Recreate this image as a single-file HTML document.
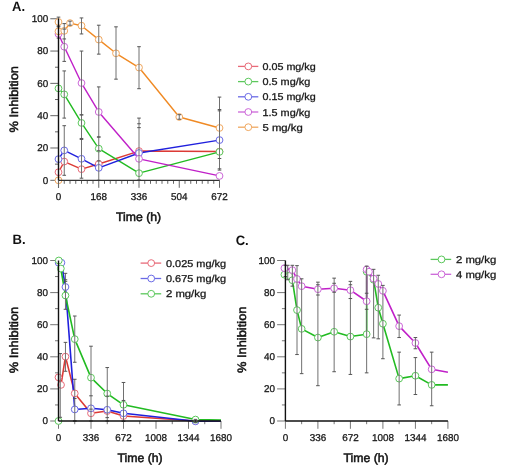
<!DOCTYPE html>
<html><head><meta charset="utf-8"><style>
html,body{margin:0;padding:0;background:#fff;}
svg{display:block;font-family:"Liberation Sans",sans-serif;text-rendering:geometricPrecision;filter:blur(0.3px);}
</style></head><body>
<svg width="520" height="467" viewBox="0 0 520 467">
<rect width="520" height="467" fill="#fff"/>
<text transform="translate(12.00,10.60) scale(0.96,1)" font-size="13.6" font-weight="bold" fill="#111">A.</text>
<text transform="translate(18.00,99.30) rotate(-90)" font-size="12.2" text-anchor="middle" fill="#111" stroke="#111" stroke-width="0.5" textLength="66.5" lengthAdjust="spacingAndGlyphs">% Inhibition</text>
<line x1="50.30" y1="180.30" x2="58.50" y2="180.30" stroke="#666" stroke-width="1" />
<text x="48.20" y="183.70" font-size="9.9" text-anchor="end" font-weight="normal" fill="#1a1a1a" stroke="#1a1a1a" stroke-width="0.3">0</text>
<line x1="55.00" y1="164.15" x2="58.50" y2="164.15" stroke="#666" stroke-width="1" />
<line x1="50.30" y1="147.99" x2="58.50" y2="147.99" stroke="#666" stroke-width="1" />
<text x="48.20" y="151.39" font-size="9.9" text-anchor="end" font-weight="normal" fill="#1a1a1a" stroke="#1a1a1a" stroke-width="0.3">20</text>
<line x1="55.00" y1="131.84" x2="58.50" y2="131.84" stroke="#666" stroke-width="1" />
<line x1="50.30" y1="115.68" x2="58.50" y2="115.68" stroke="#666" stroke-width="1" />
<text x="48.20" y="119.08" font-size="9.9" text-anchor="end" font-weight="normal" fill="#1a1a1a" stroke="#1a1a1a" stroke-width="0.3">40</text>
<line x1="55.00" y1="99.53" x2="58.50" y2="99.53" stroke="#666" stroke-width="1" />
<line x1="50.30" y1="83.37" x2="58.50" y2="83.37" stroke="#666" stroke-width="1" />
<text x="48.20" y="86.77" font-size="9.9" text-anchor="end" font-weight="normal" fill="#1a1a1a" stroke="#1a1a1a" stroke-width="0.3">60</text>
<line x1="55.00" y1="67.22" x2="58.50" y2="67.22" stroke="#666" stroke-width="1" />
<line x1="50.30" y1="51.06" x2="58.50" y2="51.06" stroke="#666" stroke-width="1" />
<text x="48.20" y="54.46" font-size="9.9" text-anchor="end" font-weight="normal" fill="#1a1a1a" stroke="#1a1a1a" stroke-width="0.3">80</text>
<line x1="55.00" y1="34.91" x2="58.50" y2="34.91" stroke="#666" stroke-width="1" />
<line x1="50.30" y1="18.75" x2="58.50" y2="18.75" stroke="#666" stroke-width="1" />
<text x="48.20" y="22.15" font-size="9.9" text-anchor="end" font-weight="normal" fill="#1a1a1a" stroke="#1a1a1a" stroke-width="0.3">100</text>
<line x1="58.50" y1="180.30" x2="58.50" y2="187.80" stroke="#666" stroke-width="1" />
<text x="58.50" y="199.80" font-size="9.9" text-anchor="middle" font-weight="normal" fill="#1a1a1a" stroke="#1a1a1a" stroke-width="0.3">0</text>
<line x1="64.25" y1="180.30" x2="64.25" y2="183.80" stroke="#666" stroke-width="1" />
<line x1="70.00" y1="180.30" x2="70.00" y2="183.80" stroke="#666" stroke-width="1" />
<line x1="75.75" y1="180.30" x2="75.75" y2="183.80" stroke="#666" stroke-width="1" />
<line x1="81.50" y1="180.30" x2="81.50" y2="183.80" stroke="#666" stroke-width="1" />
<line x1="87.25" y1="180.30" x2="87.25" y2="183.80" stroke="#666" stroke-width="1" />
<line x1="93.00" y1="180.30" x2="93.00" y2="183.80" stroke="#666" stroke-width="1" />
<line x1="98.75" y1="180.30" x2="98.75" y2="187.80" stroke="#666" stroke-width="1" />
<text x="98.75" y="199.80" font-size="9.9" text-anchor="middle" font-weight="normal" fill="#1a1a1a" stroke="#1a1a1a" stroke-width="0.3">168</text>
<line x1="104.50" y1="180.30" x2="104.50" y2="183.80" stroke="#666" stroke-width="1" />
<line x1="110.25" y1="180.30" x2="110.25" y2="183.80" stroke="#666" stroke-width="1" />
<line x1="116.00" y1="180.30" x2="116.00" y2="183.80" stroke="#666" stroke-width="1" />
<line x1="121.75" y1="180.30" x2="121.75" y2="183.80" stroke="#666" stroke-width="1" />
<line x1="127.50" y1="180.30" x2="127.50" y2="183.80" stroke="#666" stroke-width="1" />
<line x1="133.26" y1="180.30" x2="133.26" y2="183.80" stroke="#666" stroke-width="1" />
<line x1="139.01" y1="180.30" x2="139.01" y2="187.80" stroke="#666" stroke-width="1" />
<text x="139.01" y="199.80" font-size="9.9" text-anchor="middle" font-weight="normal" fill="#1a1a1a" stroke="#1a1a1a" stroke-width="0.3">336</text>
<line x1="144.76" y1="180.30" x2="144.76" y2="183.80" stroke="#666" stroke-width="1" />
<line x1="150.51" y1="180.30" x2="150.51" y2="183.80" stroke="#666" stroke-width="1" />
<line x1="156.26" y1="180.30" x2="156.26" y2="183.80" stroke="#666" stroke-width="1" />
<line x1="162.01" y1="180.30" x2="162.01" y2="183.80" stroke="#666" stroke-width="1" />
<line x1="167.76" y1="180.30" x2="167.76" y2="183.80" stroke="#666" stroke-width="1" />
<line x1="173.51" y1="180.30" x2="173.51" y2="183.80" stroke="#666" stroke-width="1" />
<line x1="179.26" y1="180.30" x2="179.26" y2="187.80" stroke="#666" stroke-width="1" />
<text x="179.26" y="199.80" font-size="9.9" text-anchor="middle" font-weight="normal" fill="#1a1a1a" stroke="#1a1a1a" stroke-width="0.3">504</text>
<line x1="185.01" y1="180.30" x2="185.01" y2="183.80" stroke="#666" stroke-width="1" />
<line x1="190.76" y1="180.30" x2="190.76" y2="183.80" stroke="#666" stroke-width="1" />
<line x1="196.51" y1="180.30" x2="196.51" y2="183.80" stroke="#666" stroke-width="1" />
<line x1="202.26" y1="180.30" x2="202.26" y2="183.80" stroke="#666" stroke-width="1" />
<line x1="208.01" y1="180.30" x2="208.01" y2="183.80" stroke="#666" stroke-width="1" />
<line x1="213.76" y1="180.30" x2="213.76" y2="183.80" stroke="#666" stroke-width="1" />
<line x1="219.51" y1="180.30" x2="219.51" y2="187.80" stroke="#666" stroke-width="1" />
<text x="219.51" y="199.80" font-size="9.9" text-anchor="middle" font-weight="normal" fill="#1a1a1a" stroke="#1a1a1a" stroke-width="0.3">672</text>
<text x="138.60" y="220.90" font-size="12.2" text-anchor="middle" fill="#111" stroke="#111" stroke-width="0.5" textLength="45.2" lengthAdjust="spacingAndGlyphs">Time (h)</text>
<polyline points="58.50,172.22 64.25,161.56 81.50,169.15 98.75,163.98 139.01,151.06 219.51,151.54" fill="none" stroke="#dc3a36" stroke-width="1.4" stroke-linejoin="round"/>
<polyline points="58.50,88.38 64.25,94.36 81.50,122.95 98.75,148.64 139.01,173.19 219.51,151.87" fill="none" stroke="#22bb22" stroke-width="1.4" stroke-linejoin="round"/>
<polyline points="58.50,159.14 64.25,150.41 81.50,158.81 98.75,167.86 139.01,153.00 219.51,140.07" fill="none" stroke="#2020dd" stroke-width="1.4" stroke-linejoin="round"/>
<polyline points="58.50,33.94 64.25,46.70 81.50,83.05 98.75,111.96 139.01,158.81 219.51,175.94" fill="none" stroke="#c020c8" stroke-width="1.4" stroke-linejoin="round"/>
<polyline points="58.50,21.98 58.50,31.35 64.25,30.87 70.00,23.11 81.50,25.70 98.75,39.59 116.00,53.32 139.01,67.54 179.26,116.97 219.51,127.96" fill="none" stroke="#f08a24" stroke-width="1.4" stroke-linejoin="round"/>
<circle cx="58.50" cy="172.22" r="3.4" fill="#fff" stroke="#e86a78" stroke-width="1"/>
<circle cx="64.25" cy="161.56" r="3.4" fill="#fff" stroke="#e86a78" stroke-width="1"/>
<circle cx="81.50" cy="169.15" r="3.4" fill="#fff" stroke="#e86a78" stroke-width="1"/>
<circle cx="98.75" cy="163.98" r="3.4" fill="#fff" stroke="#e86a78" stroke-width="1"/>
<circle cx="139.01" cy="151.06" r="3.4" fill="#fff" stroke="#e86a78" stroke-width="1"/>
<circle cx="219.51" cy="151.54" r="3.4" fill="#fff" stroke="#e86a78" stroke-width="1"/>
<circle cx="58.50" cy="88.38" r="3.4" fill="#fff" stroke="#5cc85c" stroke-width="1"/>
<circle cx="64.25" cy="94.36" r="3.4" fill="#fff" stroke="#5cc85c" stroke-width="1"/>
<circle cx="81.50" cy="122.95" r="3.4" fill="#fff" stroke="#5cc85c" stroke-width="1"/>
<circle cx="98.75" cy="148.64" r="3.4" fill="#fff" stroke="#5cc85c" stroke-width="1"/>
<circle cx="139.01" cy="173.19" r="3.4" fill="#fff" stroke="#5cc85c" stroke-width="1"/>
<circle cx="219.51" cy="151.87" r="3.4" fill="#fff" stroke="#5cc85c" stroke-width="1"/>
<circle cx="58.50" cy="159.14" r="3.4" fill="#fff" stroke="#6a6ae6" stroke-width="1"/>
<circle cx="64.25" cy="150.41" r="3.4" fill="#fff" stroke="#6a6ae6" stroke-width="1"/>
<circle cx="81.50" cy="158.81" r="3.4" fill="#fff" stroke="#6a6ae6" stroke-width="1"/>
<circle cx="98.75" cy="167.86" r="3.4" fill="#fff" stroke="#6a6ae6" stroke-width="1"/>
<circle cx="139.01" cy="153.00" r="3.4" fill="#fff" stroke="#6a6ae6" stroke-width="1"/>
<circle cx="219.51" cy="140.07" r="3.4" fill="#fff" stroke="#6a6ae6" stroke-width="1"/>
<circle cx="58.50" cy="33.94" r="3.4" fill="#fff" stroke="#cc66d8" stroke-width="1"/>
<circle cx="64.25" cy="46.70" r="3.4" fill="#fff" stroke="#cc66d8" stroke-width="1"/>
<circle cx="81.50" cy="83.05" r="3.4" fill="#fff" stroke="#cc66d8" stroke-width="1"/>
<circle cx="98.75" cy="111.96" r="3.4" fill="#fff" stroke="#cc66d8" stroke-width="1"/>
<circle cx="139.01" cy="158.81" r="3.4" fill="#fff" stroke="#cc66d8" stroke-width="1"/>
<circle cx="219.51" cy="175.94" r="3.4" fill="#fff" stroke="#cc66d8" stroke-width="1"/>
<circle cx="58.5" cy="180.30" r="3.4" fill="#fff" stroke="#f0a860" stroke-width="1"/>
<circle cx="58.50" cy="21.98" r="3.4" fill="#fff" stroke="#f0a860" stroke-width="1"/>
<circle cx="58.50" cy="31.35" r="3.4" fill="#fff" stroke="#f0a860" stroke-width="1"/>
<circle cx="64.25" cy="30.87" r="3.4" fill="#fff" stroke="#f0a860" stroke-width="1"/>
<circle cx="70.00" cy="23.11" r="3.4" fill="#fff" stroke="#f0a860" stroke-width="1"/>
<circle cx="81.50" cy="25.70" r="3.4" fill="#fff" stroke="#f0a860" stroke-width="1"/>
<circle cx="98.75" cy="39.59" r="3.4" fill="#fff" stroke="#f0a860" stroke-width="1"/>
<circle cx="116.00" cy="53.32" r="3.4" fill="#fff" stroke="#f0a860" stroke-width="1"/>
<circle cx="139.01" cy="67.54" r="3.4" fill="#fff" stroke="#f0a860" stroke-width="1"/>
<circle cx="179.26" cy="116.97" r="3.4" fill="#fff" stroke="#f0a860" stroke-width="1"/>
<circle cx="219.51" cy="127.96" r="3.4" fill="#fff" stroke="#f0a860" stroke-width="1"/>
<line x1="58.50" y1="17.13" x2="58.50" y2="38.14" stroke="#707070" stroke-width="1"/>
<line x1="64.25" y1="23.60" x2="64.25" y2="61.40" stroke="#707070" stroke-width="1"/>
<line x1="64.25" y1="70.93" x2="64.25" y2="118.10" stroke="#707070" stroke-width="1"/>
<line x1="64.25" y1="125.70" x2="64.25" y2="175.29" stroke="#707070" stroke-width="1"/>
<line x1="70.00" y1="21.17" x2="70.00" y2="25.21" stroke="#707070" stroke-width="1"/>
<line x1="81.50" y1="17.94" x2="81.50" y2="33.94" stroke="#707070" stroke-width="1"/>
<line x1="81.50" y1="51.06" x2="81.50" y2="138.46" stroke="#707070" stroke-width="1"/>
<line x1="81.50" y1="139.43" x2="81.50" y2="178.20" stroke="#707070" stroke-width="1"/>
<line x1="98.75" y1="25.21" x2="98.75" y2="54.13" stroke="#707070" stroke-width="1"/>
<line x1="98.75" y1="86.92" x2="98.75" y2="180.30" stroke="#707070" stroke-width="1"/>
<line x1="116.00" y1="26.83" x2="116.00" y2="79.17" stroke="#707070" stroke-width="1"/>
<line x1="139.01" y1="46.70" x2="139.01" y2="88.70" stroke="#707070" stroke-width="1"/>
<line x1="139.01" y1="118.10" x2="139.01" y2="180.30" stroke="#707070" stroke-width="1"/>
<line x1="179.26" y1="114.71" x2="179.26" y2="119.23" stroke="#707070" stroke-width="1"/>
<line x1="219.51" y1="97.10" x2="219.51" y2="170.12" stroke="#707070" stroke-width="1"/>
<path d="M56.70,17.13H60.30M56.70,26.83H60.30M56.70,26.02H60.30M56.70,38.14H60.30M62.45,23.60H66.05M62.45,38.94H66.05M62.45,29.09H66.05M62.45,61.40H66.05M62.45,70.93H66.05M62.45,118.10H66.05M62.45,125.70H66.05M62.45,175.29H66.05M68.20,21.17H71.80M68.20,25.21H71.80M79.70,17.94H83.30M79.70,33.94H83.30M79.70,51.06H83.30M79.70,114.87H83.30M79.70,114.87H83.30M79.70,138.46H83.30M79.70,139.43H83.30M79.70,178.20H83.30M96.95,25.21H100.55M96.95,54.13H100.55M96.95,86.92H100.55M96.95,137.00H100.55M96.95,150.74H100.55M96.95,180.30H100.55M96.95,137.00H100.55M96.95,160.91H100.55M114.20,26.83H117.80M114.20,79.17H117.80M137.21,46.70H140.81M137.21,88.70H140.81M137.21,118.10H140.81M137.21,180.30H140.81M137.21,123.76H140.81M137.21,180.30H140.81M137.21,127.63H140.81M137.21,180.30H140.81M177.46,114.71H181.06M177.46,119.23H181.06M217.71,97.10H221.31M217.71,158.49H221.31M217.71,109.54H221.31M217.71,168.83H221.31M217.71,110.83H221.31M217.71,170.12H221.31" stroke="#555" stroke-width="1" fill="none"/>
<line x1="58.50" y1="180.30" x2="58.50" y2="188.00" stroke="#666" stroke-width="1.1" />
<line x1="58.50" y1="180.30" x2="219.51" y2="180.30" stroke="#333" stroke-width="1.3" />
<line x1="58.50" y1="18.75" x2="58.50" y2="180.30" stroke="#111" stroke-width="1.4" />
<line x1="238.00" y1="66.40" x2="258.30" y2="66.40" stroke="#e86a78" stroke-width="1.3" />
<circle cx="248.30" cy="66.40" r="3.4" fill="#fff" stroke="#e86a78" stroke-width="1"/>
<text x="262.50" y="69.90" font-size="9.9" fill="#1a1a1a" stroke="#1a1a1a" stroke-width="0.3" textLength="53.2" lengthAdjust="spacingAndGlyphs">0.05 mg/kg</text>
<line x1="238.00" y1="81.60" x2="258.30" y2="81.60" stroke="#5cc85c" stroke-width="1.3" />
<circle cx="248.30" cy="81.60" r="3.4" fill="#fff" stroke="#5cc85c" stroke-width="1"/>
<text x="262.50" y="85.10" font-size="9.9" fill="#1a1a1a" stroke="#1a1a1a" stroke-width="0.3" textLength="47.7" lengthAdjust="spacingAndGlyphs">0.5 mg/kg</text>
<line x1="238.00" y1="96.80" x2="258.30" y2="96.80" stroke="#6a6ae6" stroke-width="1.3" />
<circle cx="248.30" cy="96.80" r="3.4" fill="#fff" stroke="#6a6ae6" stroke-width="1"/>
<text x="262.50" y="100.30" font-size="9.9" fill="#1a1a1a" stroke="#1a1a1a" stroke-width="0.3" textLength="53.2" lengthAdjust="spacingAndGlyphs">0.15 mg/kg</text>
<line x1="238.00" y1="112.00" x2="258.30" y2="112.00" stroke="#cc66d8" stroke-width="1.3" />
<circle cx="248.30" cy="112.00" r="3.4" fill="#fff" stroke="#cc66d8" stroke-width="1"/>
<text x="262.50" y="115.50" font-size="9.9" fill="#1a1a1a" stroke="#1a1a1a" stroke-width="0.3" textLength="47.7" lengthAdjust="spacingAndGlyphs">1.5 mg/kg</text>
<line x1="238.00" y1="127.20" x2="258.30" y2="127.20" stroke="#f0a860" stroke-width="1.3" />
<circle cx="248.30" cy="127.20" r="3.4" fill="#fff" stroke="#f0a860" stroke-width="1"/>
<text x="262.50" y="130.70" font-size="9.9" fill="#1a1a1a" stroke="#1a1a1a" stroke-width="0.3" textLength="40.2" lengthAdjust="spacingAndGlyphs">5 mg/kg</text>
<text transform="translate(12.60,244.40) scale(0.96,1)" font-size="13.6" font-weight="bold" fill="#111">B.</text>
<text transform="translate(18.30,340.00) rotate(-90)" font-size="12.2" text-anchor="middle" fill="#111" stroke="#111" stroke-width="0.5" textLength="66.5" lengthAdjust="spacingAndGlyphs">% Inhibition</text>
<line x1="50.20" y1="421.00" x2="58.50" y2="421.00" stroke="#777" stroke-width="1" />
<text x="48.00" y="424.00" font-size="9.9" text-anchor="end" font-weight="normal" fill="#1a1a1a" stroke="#1a1a1a" stroke-width="0.3">0</text>
<line x1="55.00" y1="404.95" x2="58.50" y2="404.95" stroke="#777" stroke-width="1" />
<line x1="50.20" y1="388.90" x2="58.50" y2="388.90" stroke="#777" stroke-width="1" />
<text x="48.00" y="391.90" font-size="9.9" text-anchor="end" font-weight="normal" fill="#1a1a1a" stroke="#1a1a1a" stroke-width="0.3">20</text>
<line x1="55.00" y1="372.85" x2="58.50" y2="372.85" stroke="#777" stroke-width="1" />
<line x1="50.20" y1="356.80" x2="58.50" y2="356.80" stroke="#777" stroke-width="1" />
<text x="48.00" y="359.80" font-size="9.9" text-anchor="end" font-weight="normal" fill="#1a1a1a" stroke="#1a1a1a" stroke-width="0.3">40</text>
<line x1="55.00" y1="340.75" x2="58.50" y2="340.75" stroke="#777" stroke-width="1" />
<line x1="50.20" y1="324.70" x2="58.50" y2="324.70" stroke="#777" stroke-width="1" />
<text x="48.00" y="327.70" font-size="9.9" text-anchor="end" font-weight="normal" fill="#1a1a1a" stroke="#1a1a1a" stroke-width="0.3">60</text>
<line x1="55.00" y1="308.65" x2="58.50" y2="308.65" stroke="#777" stroke-width="1" />
<line x1="50.20" y1="292.60" x2="58.50" y2="292.60" stroke="#777" stroke-width="1" />
<text x="48.00" y="295.60" font-size="9.9" text-anchor="end" font-weight="normal" fill="#1a1a1a" stroke="#1a1a1a" stroke-width="0.3">80</text>
<line x1="55.00" y1="276.55" x2="58.50" y2="276.55" stroke="#777" stroke-width="1" />
<line x1="50.20" y1="260.50" x2="58.50" y2="260.50" stroke="#777" stroke-width="1" />
<text x="48.00" y="263.50" font-size="9.9" text-anchor="end" font-weight="normal" fill="#1a1a1a" stroke="#1a1a1a" stroke-width="0.3">100</text>
<line x1="58.50" y1="421.00" x2="58.50" y2="428.80" stroke="#777" stroke-width="1" />
<text x="58.50" y="441.00" font-size="9.9" text-anchor="middle" font-weight="normal" fill="#1a1a1a" stroke="#1a1a1a" stroke-width="0.3">0</text>
<line x1="74.75" y1="421.00" x2="74.75" y2="424.20" stroke="#777" stroke-width="1" />
<line x1="91.00" y1="421.00" x2="91.00" y2="428.80" stroke="#777" stroke-width="1" />
<text x="91.00" y="441.00" font-size="9.9" text-anchor="middle" font-weight="normal" fill="#1a1a1a" stroke="#1a1a1a" stroke-width="0.3">336</text>
<line x1="107.25" y1="421.00" x2="107.25" y2="424.20" stroke="#777" stroke-width="1" />
<line x1="123.50" y1="421.00" x2="123.50" y2="428.80" stroke="#777" stroke-width="1" />
<text x="123.50" y="441.00" font-size="9.9" text-anchor="middle" font-weight="normal" fill="#1a1a1a" stroke="#1a1a1a" stroke-width="0.3">672</text>
<line x1="139.75" y1="421.00" x2="139.75" y2="424.20" stroke="#777" stroke-width="1" />
<line x1="156.00" y1="421.00" x2="156.00" y2="428.80" stroke="#777" stroke-width="1" />
<text x="156.00" y="441.00" font-size="9.9" text-anchor="middle" font-weight="normal" fill="#1a1a1a" stroke="#1a1a1a" stroke-width="0.3">1008</text>
<line x1="172.25" y1="421.00" x2="172.25" y2="424.20" stroke="#777" stroke-width="1" />
<line x1="188.51" y1="421.00" x2="188.51" y2="428.80" stroke="#777" stroke-width="1" />
<text x="188.51" y="441.00" font-size="9.9" text-anchor="middle" font-weight="normal" fill="#1a1a1a" stroke="#1a1a1a" stroke-width="0.3">1344</text>
<line x1="204.76" y1="421.00" x2="204.76" y2="424.20" stroke="#777" stroke-width="1" />
<line x1="221.01" y1="421.00" x2="221.01" y2="428.80" stroke="#777" stroke-width="1" />
<text x="221.01" y="441.00" font-size="9.9" text-anchor="middle" font-weight="normal" fill="#1a1a1a" stroke="#1a1a1a" stroke-width="0.3">1680</text>
<text x="140.10" y="461.90" font-size="12.2" text-anchor="middle" fill="#111" stroke="#111" stroke-width="0.5" textLength="45.2" lengthAdjust="spacingAndGlyphs">Time (h)</text>
<polyline points="58.50,377.34 61.01,384.89 65.46,356.64 74.75,393.39 91.00,413.30 107.25,411.05 123.50,416.02 195.47,421.00 221.01,421.00" fill="none" stroke="#dc3a36" stroke-width="1.6" stroke-linejoin="round"/>
<polyline points="58.69,262.75 61.40,262.75 65.46,286.98 74.75,409.44 91.00,408.32 107.25,409.76 123.50,413.30 195.47,421.32 221.01,421.00" fill="none" stroke="#2020dd" stroke-width="1.6" stroke-linejoin="round"/>
<polyline points="58.79,260.50 60.82,268.52 65.46,295.49 74.75,339.14 91.00,377.67 107.25,393.55 123.50,404.79 195.47,419.56 221.01,420.04" fill="none" stroke="#22bb22" stroke-width="1.6" stroke-linejoin="round"/>
<circle cx="58.50" cy="377.34" r="3.4" fill="#fff" stroke="#e86a78" stroke-width="1"/>
<circle cx="61.01" cy="384.89" r="3.4" fill="#fff" stroke="#e86a78" stroke-width="1"/>
<circle cx="65.46" cy="356.64" r="3.4" fill="#fff" stroke="#e86a78" stroke-width="1"/>
<circle cx="74.75" cy="393.39" r="3.4" fill="#fff" stroke="#e86a78" stroke-width="1"/>
<circle cx="91.00" cy="413.30" r="3.4" fill="#fff" stroke="#e86a78" stroke-width="1"/>
<circle cx="107.25" cy="411.05" r="3.4" fill="#fff" stroke="#e86a78" stroke-width="1"/>
<circle cx="123.50" cy="416.02" r="3.4" fill="#fff" stroke="#e86a78" stroke-width="1"/>
<circle cx="195.47" cy="421.00" r="3.4" fill="#fff" stroke="#e86a78" stroke-width="1"/>
<circle cx="58.69" cy="262.75" r="3.4" fill="#fff" stroke="#6a6ae6" stroke-width="1"/>
<circle cx="61.40" cy="262.75" r="3.4" fill="#fff" stroke="#6a6ae6" stroke-width="1"/>
<circle cx="65.46" cy="286.98" r="3.4" fill="#fff" stroke="#6a6ae6" stroke-width="1"/>
<circle cx="74.75" cy="409.44" r="3.4" fill="#fff" stroke="#6a6ae6" stroke-width="1"/>
<circle cx="91.00" cy="408.32" r="3.4" fill="#fff" stroke="#6a6ae6" stroke-width="1"/>
<circle cx="107.25" cy="409.76" r="3.4" fill="#fff" stroke="#6a6ae6" stroke-width="1"/>
<circle cx="123.50" cy="413.30" r="3.4" fill="#fff" stroke="#6a6ae6" stroke-width="1"/>
<circle cx="195.47" cy="421.32" r="3.4" fill="#fff" stroke="#6a6ae6" stroke-width="1"/>
<circle cx="58.5" cy="421.00" r="3.4" fill="#fff" stroke="#5cc85c" stroke-width="1"/>
<circle cx="58.79" cy="260.50" r="3.4" fill="#fff" stroke="#5cc85c" stroke-width="1"/>
<circle cx="60.82" cy="268.52" r="3.4" fill="#fff" stroke="#5cc85c" stroke-width="1"/>
<circle cx="65.46" cy="295.49" r="3.4" fill="#fff" stroke="#5cc85c" stroke-width="1"/>
<circle cx="74.75" cy="339.14" r="3.4" fill="#fff" stroke="#5cc85c" stroke-width="1"/>
<circle cx="91.00" cy="377.67" r="3.4" fill="#fff" stroke="#5cc85c" stroke-width="1"/>
<circle cx="107.25" cy="393.55" r="3.4" fill="#fff" stroke="#5cc85c" stroke-width="1"/>
<circle cx="123.50" cy="404.79" r="3.4" fill="#fff" stroke="#5cc85c" stroke-width="1"/>
<circle cx="195.47" cy="419.56" r="3.4" fill="#fff" stroke="#5cc85c" stroke-width="1"/>
<line x1="60.24" y1="353.59" x2="60.24" y2="417.31" stroke="#707070" stroke-width="1"/>
<line x1="65.46" y1="273.34" x2="65.46" y2="309.29" stroke="#707070" stroke-width="1"/>
<line x1="65.46" y1="342.36" x2="65.46" y2="371.25" stroke="#707070" stroke-width="1"/>
<line x1="74.75" y1="316.03" x2="74.75" y2="362.26" stroke="#707070" stroke-width="1"/>
<line x1="74.75" y1="379.27" x2="74.75" y2="421.00" stroke="#707070" stroke-width="1"/>
<line x1="91.00" y1="346.21" x2="91.00" y2="421.00" stroke="#707070" stroke-width="1"/>
<line x1="107.25" y1="367.55" x2="107.25" y2="421.00" stroke="#707070" stroke-width="1"/>
<line x1="123.50" y1="382.48" x2="123.50" y2="421.48" stroke="#707070" stroke-width="1"/>
<line x1="195.47" y1="419.39" x2="195.47" y2="422.61" stroke="#707070" stroke-width="1"/>
<path d="M58.44,353.59H62.04M58.44,417.31H62.04M63.66,342.36H67.26M63.66,371.25H67.26M63.66,273.34H67.26M63.66,281.37H67.26M63.66,279.76H67.26M63.66,309.29H67.26M72.95,316.03H76.55M72.95,362.26H76.55M72.95,379.27H76.55M72.95,421.00H76.55M72.95,398.53H76.55M72.95,421.00H76.55M89.20,346.21H92.80M89.20,409.12H92.80M89.20,395.80H92.80M89.20,421.00H92.80M105.45,367.55H109.05M105.45,417.63H109.05M105.45,396.12H109.05M105.45,421.00H109.05M121.70,382.48H125.30M121.70,421.48H125.30M121.70,400.46H125.30M121.70,421.00H125.30M193.67,419.39H197.27M193.67,422.61H197.27" stroke="#555" stroke-width="1" fill="none"/>
<line x1="58.50" y1="421.00" x2="221.01" y2="421.00" stroke="#111" stroke-width="1.5" />
<line x1="58.50" y1="260.50" x2="58.50" y2="421.00" stroke="#111" stroke-width="1.4" />
<line x1="140.60" y1="263.10" x2="161.20" y2="263.10" stroke="#e86a78" stroke-width="1.3" />
<circle cx="151.20" cy="263.10" r="3.4" fill="#fff" stroke="#e86a78" stroke-width="1"/>
<text x="166.00" y="266.60" font-size="9.9" fill="#1a1a1a" stroke="#1a1a1a" stroke-width="0.3" textLength="60.0" lengthAdjust="spacingAndGlyphs">0.025 mg/kg</text>
<line x1="140.60" y1="278.50" x2="161.20" y2="278.50" stroke="#6a6ae6" stroke-width="1.3" />
<circle cx="151.20" cy="278.50" r="3.4" fill="#fff" stroke="#6a6ae6" stroke-width="1"/>
<text x="166.00" y="282.00" font-size="9.9" fill="#1a1a1a" stroke="#1a1a1a" stroke-width="0.3" textLength="60.0" lengthAdjust="spacingAndGlyphs">0.675 mg/kg</text>
<line x1="140.60" y1="293.80" x2="161.20" y2="293.80" stroke="#5cc85c" stroke-width="1.3" />
<circle cx="151.20" cy="293.80" r="3.4" fill="#fff" stroke="#5cc85c" stroke-width="1"/>
<text x="166.00" y="297.30" font-size="9.9" fill="#1a1a1a" stroke="#1a1a1a" stroke-width="0.3" textLength="40.2" lengthAdjust="spacingAndGlyphs">2 mg/kg</text>
<text transform="translate(235.70,244.80) scale(0.96,1)" font-size="13.6" font-weight="bold" fill="#111">C.</text>
<text transform="translate(245.60,339.80) rotate(-90)" font-size="12.2" text-anchor="middle" fill="#111" stroke="#111" stroke-width="0.5" textLength="66.5" lengthAdjust="spacingAndGlyphs">% Inhibition</text>
<line x1="277.10" y1="421.00" x2="285.40" y2="421.00" stroke="#777" stroke-width="1" />
<text x="275.00" y="424.00" font-size="9.9" text-anchor="end" font-weight="normal" fill="#1a1a1a" stroke="#1a1a1a" stroke-width="0.3">0</text>
<line x1="281.90" y1="404.95" x2="285.40" y2="404.95" stroke="#777" stroke-width="1" />
<line x1="277.10" y1="388.90" x2="285.40" y2="388.90" stroke="#777" stroke-width="1" />
<text x="275.00" y="391.90" font-size="9.9" text-anchor="end" font-weight="normal" fill="#1a1a1a" stroke="#1a1a1a" stroke-width="0.3">20</text>
<line x1="281.90" y1="372.85" x2="285.40" y2="372.85" stroke="#777" stroke-width="1" />
<line x1="277.10" y1="356.80" x2="285.40" y2="356.80" stroke="#777" stroke-width="1" />
<text x="275.00" y="359.80" font-size="9.9" text-anchor="end" font-weight="normal" fill="#1a1a1a" stroke="#1a1a1a" stroke-width="0.3">40</text>
<line x1="281.90" y1="340.75" x2="285.40" y2="340.75" stroke="#777" stroke-width="1" />
<line x1="277.10" y1="324.70" x2="285.40" y2="324.70" stroke="#777" stroke-width="1" />
<text x="275.00" y="327.70" font-size="9.9" text-anchor="end" font-weight="normal" fill="#1a1a1a" stroke="#1a1a1a" stroke-width="0.3">60</text>
<line x1="281.90" y1="308.65" x2="285.40" y2="308.65" stroke="#777" stroke-width="1" />
<line x1="277.10" y1="292.60" x2="285.40" y2="292.60" stroke="#777" stroke-width="1" />
<text x="275.00" y="295.60" font-size="9.9" text-anchor="end" font-weight="normal" fill="#1a1a1a" stroke="#1a1a1a" stroke-width="0.3">80</text>
<line x1="281.90" y1="276.55" x2="285.40" y2="276.55" stroke="#777" stroke-width="1" />
<line x1="277.10" y1="260.50" x2="285.40" y2="260.50" stroke="#777" stroke-width="1" />
<text x="275.00" y="263.50" font-size="9.9" text-anchor="end" font-weight="normal" fill="#1a1a1a" stroke="#1a1a1a" stroke-width="0.3">100</text>
<line x1="285.40" y1="421.00" x2="285.40" y2="428.80" stroke="#777" stroke-width="1" />
<text x="285.40" y="441.00" font-size="9.9" text-anchor="middle" font-weight="normal" fill="#1a1a1a" stroke="#1a1a1a" stroke-width="0.3">0</text>
<line x1="301.65" y1="421.00" x2="301.65" y2="424.20" stroke="#777" stroke-width="1" />
<line x1="317.90" y1="421.00" x2="317.90" y2="428.80" stroke="#777" stroke-width="1" />
<text x="317.90" y="441.00" font-size="9.9" text-anchor="middle" font-weight="normal" fill="#1a1a1a" stroke="#1a1a1a" stroke-width="0.3">336</text>
<line x1="334.15" y1="421.00" x2="334.15" y2="424.20" stroke="#777" stroke-width="1" />
<line x1="350.40" y1="421.00" x2="350.40" y2="428.80" stroke="#777" stroke-width="1" />
<text x="350.40" y="441.00" font-size="9.9" text-anchor="middle" font-weight="normal" fill="#1a1a1a" stroke="#1a1a1a" stroke-width="0.3">672</text>
<line x1="366.65" y1="421.00" x2="366.65" y2="424.20" stroke="#777" stroke-width="1" />
<line x1="382.90" y1="421.00" x2="382.90" y2="428.80" stroke="#777" stroke-width="1" />
<text x="382.90" y="441.00" font-size="9.9" text-anchor="middle" font-weight="normal" fill="#1a1a1a" stroke="#1a1a1a" stroke-width="0.3">1008</text>
<line x1="399.15" y1="421.00" x2="399.15" y2="424.20" stroke="#777" stroke-width="1" />
<line x1="415.41" y1="421.00" x2="415.41" y2="428.80" stroke="#777" stroke-width="1" />
<text x="415.41" y="441.00" font-size="9.9" text-anchor="middle" font-weight="normal" fill="#1a1a1a" stroke="#1a1a1a" stroke-width="0.3">1344</text>
<line x1="431.66" y1="421.00" x2="431.66" y2="424.20" stroke="#777" stroke-width="1" />
<line x1="447.91" y1="421.00" x2="447.91" y2="428.80" stroke="#777" stroke-width="1" />
<text x="447.91" y="441.00" font-size="9.9" text-anchor="middle" font-weight="normal" fill="#1a1a1a" stroke="#1a1a1a" stroke-width="0.3">1680</text>
<text x="366.10" y="461.90" font-size="12.2" text-anchor="middle" fill="#111" stroke="#111" stroke-width="0.5" textLength="45.2" lengthAdjust="spacingAndGlyphs">Time (h)</text>
<polyline points="284.43,274.62 289.08,275.91 292.36,280.24 297.01,310.09 301.65,328.87 317.90,337.54 334.15,331.76 350.40,336.58 366.65,334.17 366.65,271.74 373.62,279.76 378.26,307.69 382.90,323.74 399.15,378.63 415.41,375.74 431.66,384.89 447.91,384.89" fill="none" stroke="#22bb22" stroke-width="1.6" stroke-linejoin="round"/>
<polyline points="284.43,268.20 292.36,270.13 297.01,278.96 301.65,286.18 317.90,289.23 334.15,288.27 350.40,290.19 366.65,301.27 366.65,269.49 368.97,271.74 373.62,278.64 378.26,283.93 382.90,290.83 399.15,326.14 415.41,343.00 431.66,369.32 447.91,372.21" fill="none" stroke="#c020c8" stroke-width="1.6" stroke-linejoin="round"/>
<circle cx="284.43" cy="274.62" r="3.4" fill="#fff" stroke="#5cc85c" stroke-width="1"/>
<circle cx="289.08" cy="275.91" r="3.4" fill="#fff" stroke="#5cc85c" stroke-width="1"/>
<circle cx="292.36" cy="280.24" r="3.4" fill="#fff" stroke="#5cc85c" stroke-width="1"/>
<circle cx="297.01" cy="310.09" r="3.4" fill="#fff" stroke="#5cc85c" stroke-width="1"/>
<circle cx="301.65" cy="328.87" r="3.4" fill="#fff" stroke="#5cc85c" stroke-width="1"/>
<circle cx="317.90" cy="337.54" r="3.4" fill="#fff" stroke="#5cc85c" stroke-width="1"/>
<circle cx="334.15" cy="331.76" r="3.4" fill="#fff" stroke="#5cc85c" stroke-width="1"/>
<circle cx="350.40" cy="336.58" r="3.4" fill="#fff" stroke="#5cc85c" stroke-width="1"/>
<circle cx="366.65" cy="334.17" r="3.4" fill="#fff" stroke="#5cc85c" stroke-width="1"/>
<circle cx="366.65" cy="271.74" r="3.4" fill="#fff" stroke="#5cc85c" stroke-width="1"/>
<circle cx="373.62" cy="279.76" r="3.4" fill="#fff" stroke="#5cc85c" stroke-width="1"/>
<circle cx="378.26" cy="307.69" r="3.4" fill="#fff" stroke="#5cc85c" stroke-width="1"/>
<circle cx="382.90" cy="323.74" r="3.4" fill="#fff" stroke="#5cc85c" stroke-width="1"/>
<circle cx="399.15" cy="378.63" r="3.4" fill="#fff" stroke="#5cc85c" stroke-width="1"/>
<circle cx="415.41" cy="375.74" r="3.4" fill="#fff" stroke="#5cc85c" stroke-width="1"/>
<circle cx="431.66" cy="384.89" r="3.4" fill="#fff" stroke="#5cc85c" stroke-width="1"/>
<circle cx="284.43" cy="268.20" r="3.4" fill="#fff" stroke="#cc66d8" stroke-width="1"/>
<circle cx="292.36" cy="270.13" r="3.4" fill="#fff" stroke="#cc66d8" stroke-width="1"/>
<circle cx="297.01" cy="278.96" r="3.4" fill="#fff" stroke="#cc66d8" stroke-width="1"/>
<circle cx="301.65" cy="286.18" r="3.4" fill="#fff" stroke="#cc66d8" stroke-width="1"/>
<circle cx="317.90" cy="289.23" r="3.4" fill="#fff" stroke="#cc66d8" stroke-width="1"/>
<circle cx="334.15" cy="288.27" r="3.4" fill="#fff" stroke="#cc66d8" stroke-width="1"/>
<circle cx="350.40" cy="290.19" r="3.4" fill="#fff" stroke="#cc66d8" stroke-width="1"/>
<circle cx="366.65" cy="301.27" r="3.4" fill="#fff" stroke="#cc66d8" stroke-width="1"/>
<circle cx="366.65" cy="269.49" r="3.4" fill="#fff" stroke="#cc66d8" stroke-width="1"/>
<circle cx="368.97" cy="271.74" r="3.4" fill="#fff" stroke="#cc66d8" stroke-width="1"/>
<circle cx="373.62" cy="278.64" r="3.4" fill="#fff" stroke="#cc66d8" stroke-width="1"/>
<circle cx="378.26" cy="283.93" r="3.4" fill="#fff" stroke="#cc66d8" stroke-width="1"/>
<circle cx="382.90" cy="290.83" r="3.4" fill="#fff" stroke="#cc66d8" stroke-width="1"/>
<circle cx="399.15" cy="326.14" r="3.4" fill="#fff" stroke="#cc66d8" stroke-width="1"/>
<circle cx="415.41" cy="343.00" r="3.4" fill="#fff" stroke="#cc66d8" stroke-width="1"/>
<circle cx="431.66" cy="369.32" r="3.4" fill="#fff" stroke="#cc66d8" stroke-width="1"/>
<line x1="285.40" y1="265.31" x2="285.40" y2="276.55" stroke="#707070" stroke-width="1"/>
<line x1="287.72" y1="265.31" x2="287.72" y2="279.76" stroke="#707070" stroke-width="1"/>
<line x1="292.36" y1="265.31" x2="292.36" y2="286.18" stroke="#707070" stroke-width="1"/>
<line x1="297.01" y1="265.64" x2="297.01" y2="354.55" stroke="#707070" stroke-width="1"/>
<line x1="301.65" y1="278.80" x2="301.65" y2="373.65" stroke="#707070" stroke-width="1"/>
<line x1="317.90" y1="282.17" x2="317.90" y2="385.69" stroke="#707070" stroke-width="1"/>
<line x1="334.15" y1="278.15" x2="334.15" y2="371.73" stroke="#707070" stroke-width="1"/>
<line x1="350.40" y1="281.37" x2="350.40" y2="374.45" stroke="#707070" stroke-width="1"/>
<line x1="366.65" y1="266.12" x2="366.65" y2="372.85" stroke="#707070" stroke-width="1"/>
<line x1="373.62" y1="269.33" x2="373.62" y2="337.86" stroke="#707070" stroke-width="1"/>
<line x1="378.26" y1="275.27" x2="378.26" y2="338.82" stroke="#707070" stroke-width="1"/>
<line x1="382.90" y1="285.38" x2="382.90" y2="358.73" stroke="#707070" stroke-width="1"/>
<line x1="399.15" y1="315.07" x2="399.15" y2="337.54" stroke="#707070" stroke-width="1"/>
<line x1="399.15" y1="352.15" x2="399.15" y2="404.95" stroke="#707070" stroke-width="1"/>
<line x1="415.41" y1="337.54" x2="415.41" y2="348.77" stroke="#707070" stroke-width="1"/>
<line x1="415.41" y1="357.60" x2="415.41" y2="394.52" stroke="#707070" stroke-width="1"/>
<line x1="431.66" y1="352.15" x2="431.66" y2="405.75" stroke="#707070" stroke-width="1"/>
<path d="M283.60,265.31H287.20M283.60,276.55H287.20M285.92,265.31H289.52M285.92,279.76H289.52M290.56,265.31H294.16M290.56,286.18H294.16M295.21,265.64H298.81M295.21,354.55H298.81M299.85,278.80H303.45M299.85,373.65H303.45M316.10,282.17H319.70M316.10,385.69H319.70M332.35,278.15H335.95M332.35,371.73H335.95M348.60,281.37H352.20M348.60,374.45H352.20M316.10,284.74H319.70M316.10,295.01H319.70M332.35,283.29H335.95M332.35,292.28H335.95M348.60,284.74H352.20M348.60,298.54H352.20M364.85,293.24H368.45M364.85,309.29H368.45M364.85,266.12H368.45M364.85,372.85H368.45M371.82,269.33H375.42M371.82,337.86H375.42M376.46,275.27H380.06M376.46,338.82H380.06M381.10,285.38H384.70M381.10,358.73H384.70M397.35,315.07H400.95M397.35,337.54H400.95M397.35,352.15H400.95M397.35,404.95H400.95M413.61,337.54H417.21M413.61,348.77H417.21M413.61,357.60H417.21M413.61,394.52H417.21M429.86,352.15H433.46M429.86,405.75H433.46" stroke="#555" stroke-width="1" fill="none"/>
<line x1="285.40" y1="421.00" x2="447.91" y2="421.00" stroke="#111" stroke-width="1.5" />
<line x1="285.40" y1="260.50" x2="285.40" y2="421.00" stroke="#111" stroke-width="1.4" />
<line x1="430.60" y1="259.40" x2="451.20" y2="259.40" stroke="#5cc85c" stroke-width="1.3" />
<circle cx="441.50" cy="259.40" r="3.4" fill="#fff" stroke="#5cc85c" stroke-width="1"/>
<text x="456.00" y="262.90" font-size="9.9" fill="#1a1a1a" stroke="#1a1a1a" stroke-width="0.3" textLength="40.2" lengthAdjust="spacingAndGlyphs">2 mg/kg</text>
<line x1="430.60" y1="274.30" x2="451.20" y2="274.30" stroke="#cc66d8" stroke-width="1.3" />
<circle cx="441.50" cy="274.30" r="3.4" fill="#fff" stroke="#cc66d8" stroke-width="1"/>
<text x="456.00" y="277.80" font-size="9.9" fill="#1a1a1a" stroke="#1a1a1a" stroke-width="0.3" textLength="40.2" lengthAdjust="spacingAndGlyphs">4 mg/kg</text>
</svg>
</body></html>
